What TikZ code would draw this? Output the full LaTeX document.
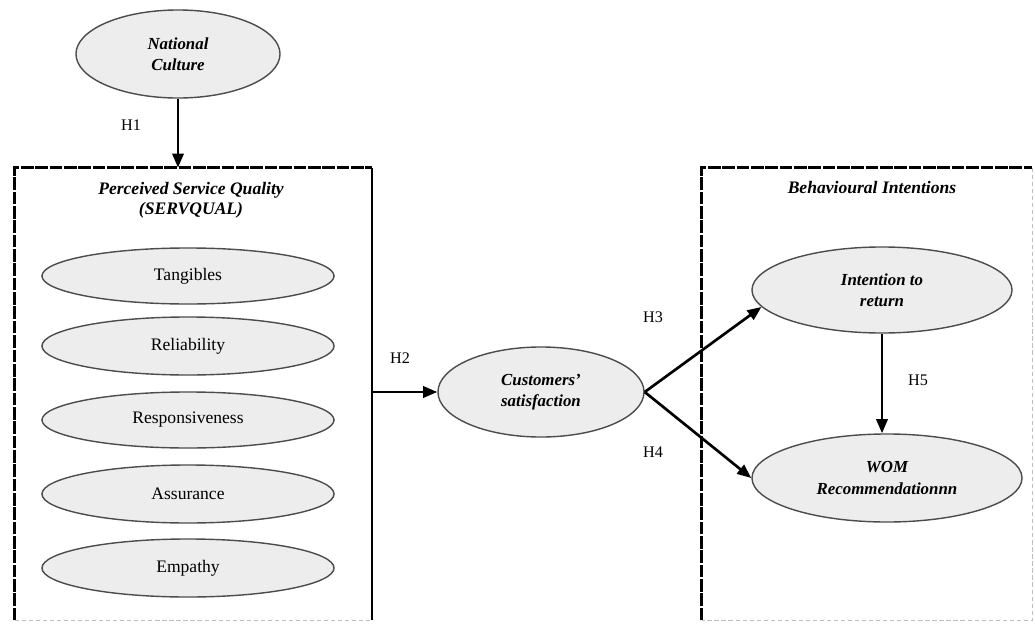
\documentclass[tikz,border=0pt]{standalone}
\usepackage{fontspec}
\setmainfont{Liberation Serif}
\usetikzlibrary{shapes.geometric,arrows.meta}

\begin{document}
\begin{tikzpicture}[x=0.025cm,y=-0.025cm,
    factor/.style={ellipse,draw=black!70,line width=1pt,fill=black!7,inner sep=0pt,
      align=center,font=\fontsize{12.5}{15}\selectfont},
    construct/.style={factor,font=\fontsize{12}{15}\selectfont\bfseries\itshape},
    link/.style={-{Triangle[length=10pt,width=8pt]},line width=1.9pt},
    hlabel/.style={font=\fontsize{11.5}{13}\selectfont},
    title/.style={font=\fontsize{12.5}{14.5}\selectfont\bfseries\itshape,align=center},
    panel/.style={inner sep=0pt},
    panelline/.style={line width=1.9pt,dash pattern=on 9pt off 1.2pt},
    faint/.style={black!25,line width=0.6pt,dash pattern=on 3pt off 2pt}]
  \useasboundingbox (0,0) rectangle (1035,625);

  % panels
  \node[panel,minimum width=8.925cm,minimum height=11.3cm] (psq) at (193.5,394) {};
  \node[panel,minimum width=8.25cm,minimum height=11.3cm] (bi) at (867,394) {};
  \draw[panelline] (psq.south west) -- (psq.north west) -- (psq.north east);
  \draw[line width=1.4pt] (psq.north east) -- (psq.south east);
  \draw[faint] (psq.south west) -- (psq.south east);
  \draw[panelline] (bi.south west) -- (bi.north west) -- (bi.north east);
  \draw[faint] (bi.north east) -- (bi.south east) -- (bi.south west);

  \node[title] (psqtitle) at (191,200) {Perceived Service Quality\\(SERVQUAL)};
  \node[title] (bititle) at (872,188) {Behavioural Intentions};

  % constructs
  \node[construct,minimum width=5.1cm,minimum height=2.2cm] (nc) at (178,54) {National\\Culture};
  \node[factor,minimum width=7.3cm,minimum height=1.4cm] (tan) at (188,276) {Tangibles};
  \node[factor,minimum width=7.3cm,minimum height=1.45cm] (rel) at (188,346) {Reliability};
  \node[factor,minimum width=7.3cm,minimum height=1.4cm] (res) at (188,420) {Responsiveness};
  \node[factor,minimum width=7.3cm,minimum height=1.45cm] (ass) at (188,494) {Assurance};
  \node[factor,minimum width=7.3cm,minimum height=1.45cm] (emp) at (188,568) {Empathy};
  \node[construct,minimum width=5.15cm,minimum height=2.25cm] (cs) at (541,392) {Customers'\\satisfaction};
  \node[construct,minimum width=6.5cm,minimum height=2.15cm] (ir) at (882,290) {Intention to\\return};
  \node[construct,minimum width=6.75cm,minimum height=2.2cm] (wom) at (887,478) {WOM\\Recommendationnn};

  % hypotheses
  \draw[link] (nc.south) -- (nc.south |- psq.north);
  \draw[link] (psq.east |- cs.west) -- (cs.west);
  \draw[link] (cs.east) -- (ir.188);
  \draw[link] (cs.east) -- (wom.west);
  \draw[link] (ir.south) -- (ir.south |- wom.north);

  \node[hlabel] (h1) at (131,125) {H1};
  \node[hlabel] (h2) at (400,358) {H2};
  \node[hlabel] (h3) at (653,317) {H3};
  \node[hlabel] (h4) at (653,452) {H4};
  \node[hlabel] (h5) at (918,380) {H5};
\end{tikzpicture}
\end{document}
